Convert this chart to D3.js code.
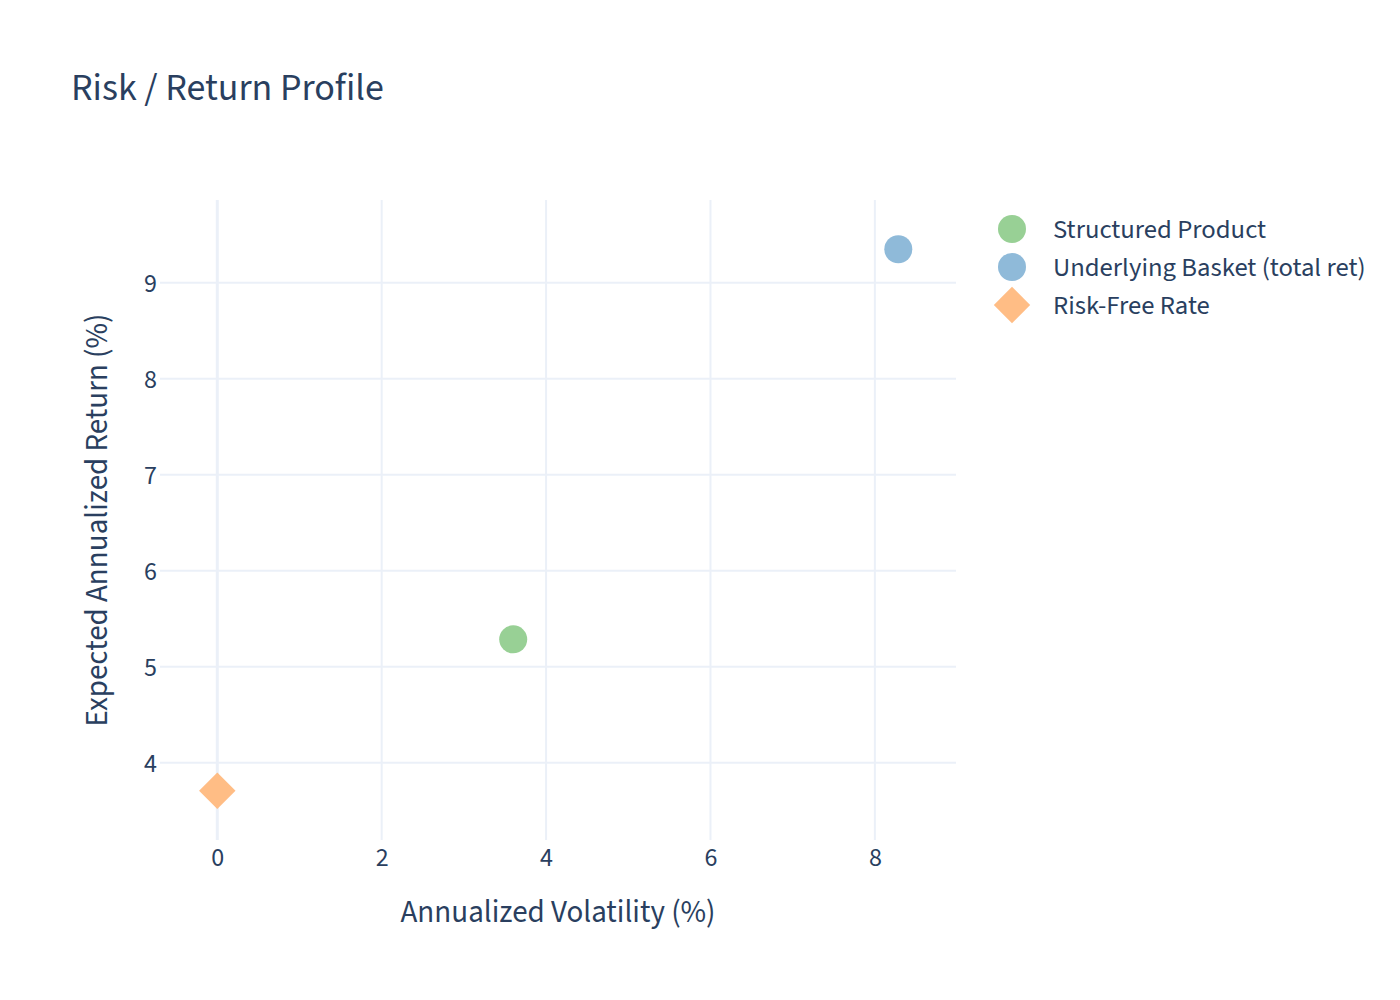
<!DOCTYPE html>
<html>
<head>
<meta charset="utf-8">
<script src="https://cdn.jsdelivr.net/npm/d3@7"></script>
<style>
  body { margin: 0; background: #fff; }
  svg { font-family: "Source Sans Pro", "Source Sans 3", Lato, "Noto Sans", sans-serif; }
</style>
</head>
<body>
<svg width="1400" height="1000"></svg>
<script>
// series, one point each
const seriesNames = ['Structured Product', 'Underlying Basket (total ret)', 'Risk-Free Rate'];
const volatility = [3.60, 8.285, 0.0];
const expectedReturn = [5.285, 9.348, 3.708];
const seriesColors = ['#98d095', '#8fbad9', '#ffbd85'];
const seriesSymbols = ['circle', 'circle', 'diamond'];

const xTicks = [0, 2, 4, 6, 8];
const yTicks = [4, 5, 6, 7, 8, 9];
const xDomain = [-0.697, 8.987];
const yDomain = [3.195, 9.861];

const textColor = '#2a3f5f';
const gridColor = '#ebf0f8';

const svg = d3.select('svg');
const plot = { left: 160, right: 956, top: 200, bottom: 840 };

const x = d3.scaleLinear().domain(xDomain).range([plot.left, plot.right]);
const y = d3.scaleLinear().domain(yDomain).range([plot.bottom, plot.top]);

// gridlines
const grid = svg.append('g');
grid.selectAll('.xgrid')
  .data(xTicks)
  .enter()
  .append('line')
  .attr('x1', d => x(d))
  .attr('x2', d => x(d))
  .attr('y1', plot.top)
  .attr('y2', plot.bottom)
  .attr('stroke', gridColor)
  .attr('stroke-width', d => d === 0 ? 3 : 2);

grid.selectAll('.ygrid')
  .data(yTicks)
  .enter()
  .append('line')
  .attr('x1', plot.left)
  .attr('x2', plot.right)
  .attr('y1', d => y(d))
  .attr('y2', d => y(d))
  .attr('stroke', gridColor)
  .attr('stroke-width', 2);

// axes (labels only, like plotly)
const xAxis = svg.append('g')
  .attr('transform', `translate(0,${plot.bottom})`)
  .call(d3.axisBottom(x).tickValues(xTicks).tickFormat(d3.format('d')).tickSize(0));
const yAxis = svg.append('g')
  .attr('transform', `translate(${plot.left},0)`)
  .call(d3.axisLeft(y).tickValues(yTicks).tickFormat(d3.format('d')).tickSize(0).tickPadding(3));

[xAxis, yAxis].forEach(a => {
  a.attr('font-family', null).attr('font-size', null);
  a.select('.domain').remove();
  a.selectAll('text')
    .attr('fill', textColor)
    .style('font-size', '26px');
});
xAxis.selectAll('text').attr('y', 26).attr('dy', null);
yAxis.selectAll('text').attr('dy', '0.35em');

// points
const symbolPath = (type, size) => {
  if (type === 'diamond') {
    const r = size * 1.3 / 2;
    return `M${r},0L0,${r}L${-r},0L0,${-r}Z`;
  }
  return d3.symbol().type(d3.symbolCircle).size(Math.PI * (size / 2) ** 2)();
};

svg.append('g')
  .selectAll('path')
  .data(seriesNames.map((name, i) => ({ name, i })))
  .enter()
  .append('path')
  .attr('transform', d => `translate(${x(volatility[d.i])},${y(expectedReturn[d.i])})`)
  .attr('d', d => symbolPath(seriesSymbols[d.i], 28))
  .attr('fill', d => seriesColors[d.i]);

// title + axis titles
svg.append('text')
  .attr('x', 71)
  .attr('y', 100)
  .attr('fill', textColor)
  .style('font-size', '38px')
  .text('Risk / Return Profile');

svg.append('text')
  .attr('x', (plot.left + plot.right) / 2)
  .attr('y', 922)
  .attr('text-anchor', 'middle')
  .attr('fill', textColor)
  .style('font-size', '31px')
  .text('Annualized Volatility (%)');

svg.append('text')
  .attr('transform', `translate(107,${(plot.top + plot.bottom) / 2}) rotate(-90)`)
  .attr('text-anchor', 'middle')
  .attr('fill', textColor)
  .style('font-size', '31px')
  .text('Expected Annualized Return (%)');

// legend
const legend = svg.append('g')
  .selectAll('g')
  .data(seriesNames.map((name, i) => ({ name, i })))
  .enter()
  .append('g')
  .attr('transform', d => `translate(1012,${229 + d.i * 38})`);

legend.append('path')
  .attr('d', d => symbolPath(seriesSymbols[d.i], 28))
  .attr('fill', d => seriesColors[d.i]);

legend.append('text')
  .attr('x', 41)
  .attr('dy', '0.35em')
  .attr('fill', textColor)
  .style('font-size', '26.7px')
  .text(d => d.name);
</script>
</body>
</html>
